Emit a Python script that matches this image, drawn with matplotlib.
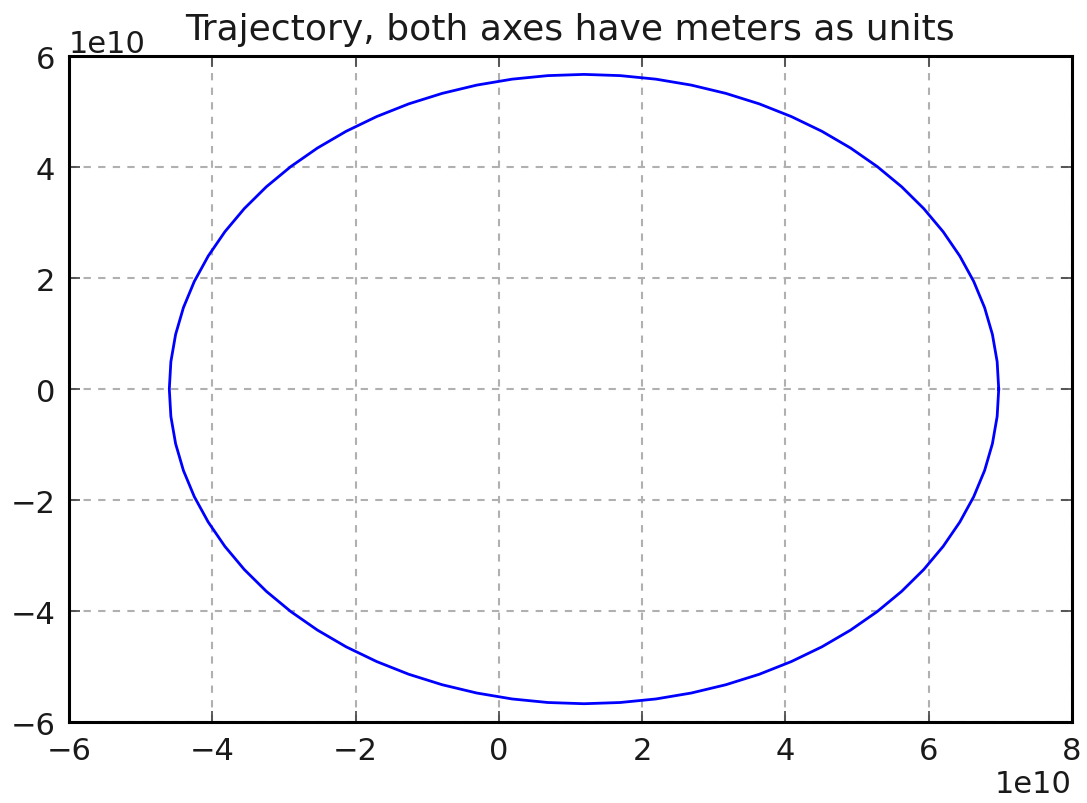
import matplotlib
matplotlib.use('Agg')
import matplotlib.pyplot as plt

# Orbit points (units: 1e10 m), every 5 degrees round the path
x_pos = [6.980, 6.958, 6.892, 6.783, 6.631, 6.437, 6.204, 5.933, 5.625, 5.284,
         4.912, 4.511, 4.085, 3.637, 3.170, 2.688, 2.195, 1.695, 1.190, 0.685,
         0.185, -0.308, -0.790, -1.257, -1.705, -2.131, -2.532, -2.904, -3.245,
         -3.553, -3.824, -4.057, -4.251, -4.403, -4.512, -4.578, -4.600,
         -4.578, -4.512, -4.403, -4.251, -4.057, -3.824, -3.553, -3.245, -2.904,
         -2.532, -2.131, -1.705, -1.257, -0.790, -0.308, 0.185, 0.685, 1.190,
         1.695, 2.195, 2.688, 3.170, 3.637, 4.085, 4.511, 4.912, 5.284, 5.625,
         5.933, 6.204, 6.437, 6.631, 6.783, 6.892, 6.958, 6.980]
y_pos = [0.000, 0.494, 0.984, 1.467, 1.939, 2.396, 2.835, 3.252, 3.645, 4.009,
         4.343, 4.645, 4.910, 5.139, 5.328, 5.477, 5.584, 5.648, 5.670, 5.648,
         5.584, 5.477, 5.328, 5.139, 4.910, 4.645, 4.343, 4.009, 3.645,
         3.252, 2.835, 2.396, 1.939, 1.467, 0.984, 0.494, 0.000,
         -0.494, -0.984, -1.467, -1.939, -2.396, -2.835, -3.252, -3.645, -4.009,
         -4.343, -4.645, -4.910, -5.139, -5.328, -5.477, -5.584, -5.648, -5.670,
         -5.648, -5.584, -5.477, -5.328, -5.139, -4.910, -4.645, -4.343, -4.009, -3.645,
         -3.252, -2.835, -2.396, -1.939, -1.467, -0.984, -0.494, 0.000]
scale = 1e10

x_ticks = [-6, -4, -2, 0, 2, 4, 6, 8]
y_ticks = [-6, -4, -2, 0, 2, 4, 6]

fig = plt.figure(figsize=(10.87, 8.04), dpi=100)
ax = fig.add_axes([0.0635, 0.1007, 0.9225, 0.8283])

ax.plot([v * scale for v in x_pos], [v * scale for v in y_pos], color='#0000ff', lw=2.0)

ax.set_xlim(-6 * scale, 8 * scale)
ax.set_ylim(-6 * scale, 6 * scale)
ax.set_xticks([t * scale for t in x_ticks])
ax.set_yticks([t * scale for t in y_ticks])

ax.grid(True, color='#b0b0b0', linestyle=(0, (3.5, 3.5)), linewidth=1.5)
ax.tick_params(direction='in', length=8, width=1.2, colors='#444444',
               labelsize=22, labelcolor='#1a1a1a', pad=10,
               top=True, right=True)
for s in ax.spines.values():
    s.set_linewidth(2.2)
ax.xaxis.get_offset_text().set_fontsize(22)
ax.yaxis.get_offset_text().set_fontsize(22)

ax.set_title('Trajectory, both axes have meters as units', fontsize=26, pad=12,
             color='#1a1a1a')

fig.savefig('out.png', dpi=100)
